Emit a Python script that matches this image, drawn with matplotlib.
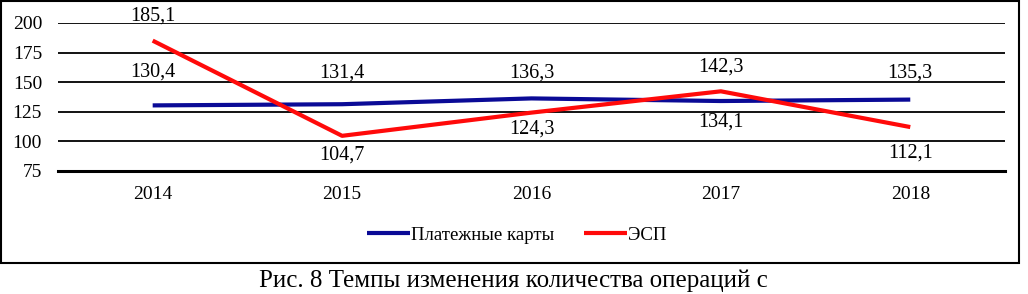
import matplotlib
matplotlib.use('Agg')
import matplotlib.pyplot as pyplot
from matplotlib.patches import Rectangle

years = ['2014', '2015', '2016', '2017', '2018']
cards = [130.4, 131.4, 136.3, 134.1, 135.3]
esp = [185.1, 104.7, 124.3, 142.3, 112.1]
yticks = [75, 100, 125, 150, 175, 200]
caption = 'Рис. 8 Темпы изменения количества операций с'

# vertical offsets of the data labels, in pixels (positive = above the point)
cards_off = [33, 31, 25, -21.5, 26.5]
esp_off = [25, -19, -16, 24, -26]


def fmt(v):
    return f'{v:.1f}'.replace('.', ',')


def main():
    pyplot.rcParams['font.family'] = ['Liberation Serif', 'DejaVu Serif']
    fig = pyplot.figure(figsize=(10.28, 2.94), dpi=100)
    ax = fig.add_axes([0.0564, 0.4184, 0.9212, 0.5034])

    x = list(range(len(years)))
    ax.plot(x, cards, color='#0a0a96', lw=3.0, label='Платежные карты', solid_capstyle='butt', zorder=3)
    ax.plot(x, esp, color='#ff0a0a', lw=3.0, label='ЭСП', solid_capstyle='butt', zorder=4)

    px2pt = 72.0 / fig.dpi
    for vals, offs in ((cards, cards_off), (esp, esp_off)):
        for xi, v, off in zip(x, vals, offs):
            ax.annotate(fmt(v), (xi, v), xytext=(0, off * px2pt), textcoords='offset points',
                        ha='center', va='center', fontsize=14.5, zorder=5)

    ax.set_xlim(-0.5, len(years) - 0.5)
    ax.set_ylim(75, 200)
    ax.set_yticks(yticks)
    ax.set_xticks(x)
    ax.set_xticklabels(years)
    ax.yaxis.grid(True, color='black', lw=1.3)
    ax.set_axisbelow(True)
    for s in ['top', 'right', 'left']:
        ax.spines[s].set_visible(False)
    ax.spines['bottom'].set_linewidth(2.2)
    ax.tick_params(axis='both', length=0, labelsize=14)
    ax.tick_params(axis='x', pad=11)
    ax.tick_params(axis='y', pad=11.5)

    ax.legend(loc='center', bbox_to_anchor=(0.5025, 0.2), bbox_transform=fig.transFigure,
              ncol=2, frameon=False, fontsize=13.5, handlelength=2.3, handletextpad=0.05,
              columnspacing=1.6)

    fig.patches.append(Rectangle((0.001, 0.104), 0.99, 0.893, transform=fig.transFigure,
                                 fill=False, edgecolor='black', lw=1.5))
    fig.text(0.499, 0.045, caption, ha='center', va='center', fontsize=18)

    pyplot.savefig('out.png', dpi=100)


if __name__ == '__main__':
    main()
